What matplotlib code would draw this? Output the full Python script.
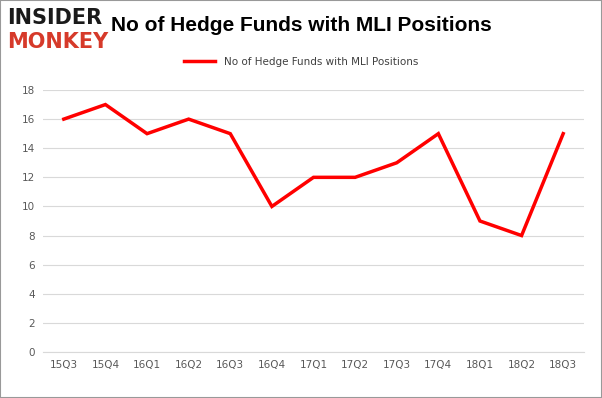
import matplotlib
matplotlib.use("Agg")
import matplotlib.pyplot as plt
from matplotlib.patches import Rectangle

quarters = ["15Q3", "15Q4", "16Q1", "16Q2", "16Q3", "16Q4", "17Q1", "17Q2",
            "17Q3", "17Q4", "18Q1", "18Q2", "18Q3"]
funds = [16, 17, 15, 16, 15, 10, 12, 12, 13, 15, 9, 8, 15]
yticks = list(range(0, 20, 2))
series_name = "No of Hedge Funds with MLI Positions"
title = "No of Hedge Funds with MLI Positions"

fig = plt.figure(figsize=(6.02, 3.98), dpi=100)
ax = fig.add_axes([43/602, 1-352/398, 541/602, (352-90)/398])

x = list(range(len(quarters)))
ax.plot(x, funds, color="#ff0000", lw=2.5, label=series_name, solid_joinstyle="miter")
ax.set_xlim(-0.5, len(quarters) - 0.5)
ax.set_ylim(0, 18)
ax.set_yticks(yticks)
ax.set_xticks(x)
ax.set_xticklabels(quarters)
ax.grid(axis="y", color="#d9d9d9", lw=0.8)
ax.set_axisbelow(True)
for s in ["top", "right", "left"]:
    ax.spines[s].set_visible(False)
ax.spines["bottom"].set_color("#d9d9d9")
ax.tick_params(axis="both", length=0, labelsize=7.5, colors="#595959", pad=6)

fig.text(0.5, 0.935, title, ha="center", va="center", fontsize=15, fontweight="bold",
         family="Liberation Sans")
fig.legend(loc="center", bbox_to_anchor=(0.5, 0.845), frameon=False, fontsize=7.5,
           handlelength=3, labelcolor="#404040")

fig.text(0.012, 0.955, "INSIDER", ha="left", va="center", fontsize=15, fontweight="bold",
         color="#1a1a1a", family="DejaVu Sans")
fig.text(0.012, 0.895, "MONKEY", ha="left", va="center", fontsize=15, fontweight="bold",
         color="#d63a2a", family="DejaVu Sans")

fig.add_artist(Rectangle((0, 0), 1, 1, transform=fig.transFigure, fill=False,
                         edgecolor="#999999", lw=1.5))
fig.savefig("out.png", dpi=100)
